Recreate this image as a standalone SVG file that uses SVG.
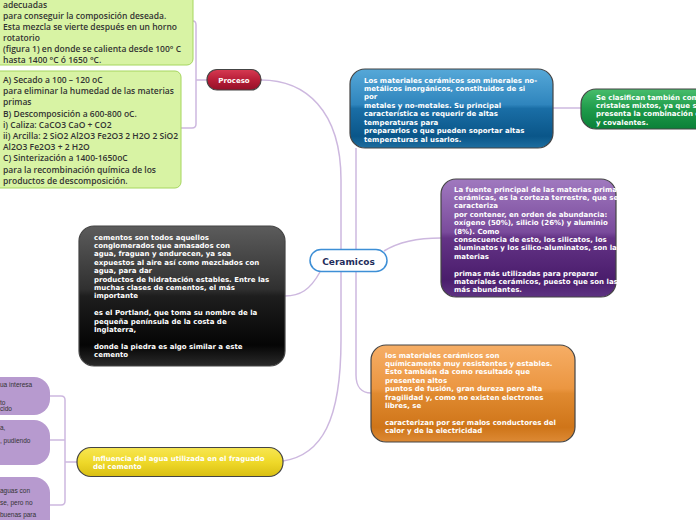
<svg xmlns="http://www.w3.org/2000/svg" width="696" height="520" viewBox="0 0 696 520">
<defs>
<linearGradient id="gBlue" x1="0" y1="0" x2="0" y2="1"><stop offset="0" stop-color="#56a8d8"/><stop offset="0.45" stop-color="#2f85bd"/><stop offset="0.5" stop-color="#1a6ea6"/><stop offset="0.85" stop-color="#0a5689"/><stop offset="1" stop-color="#1d6ea0"/></linearGradient>
<linearGradient id="gPurple" x1="0" y1="0" x2="0" y2="1"><stop offset="0" stop-color="#a079bf"/><stop offset="0.45" stop-color="#7a4b9c"/><stop offset="0.5" stop-color="#643386"/><stop offset="0.85" stop-color="#4a1d6c"/><stop offset="1" stop-color="#5e3382"/></linearGradient>
<linearGradient id="gBlack" x1="0" y1="0" x2="0" y2="1"><stop offset="0" stop-color="#5c5c5c"/><stop offset="0.45" stop-color="#303030"/><stop offset="0.5" stop-color="#1e1e1e"/><stop offset="0.85" stop-color="#050505"/><stop offset="1" stop-color="#2a2a2a"/></linearGradient>
<linearGradient id="gOrange" x1="0" y1="0" x2="0" y2="1"><stop offset="0" stop-color="#f6ae66"/><stop offset="0.45" stop-color="#eb9641"/><stop offset="0.5" stop-color="#e08a30"/><stop offset="0.85" stop-color="#cf7519"/><stop offset="1" stop-color="#dd8a35"/></linearGradient>
<linearGradient id="gYellow" x1="0" y1="0" x2="0" y2="1"><stop offset="0" stop-color="#f7e652"/><stop offset="0.5" stop-color="#efd92a"/><stop offset="1" stop-color="#d9bf12"/></linearGradient>
<linearGradient id="gGreen" x1="0" y1="0" x2="0" y2="1"><stop offset="0" stop-color="#48bd6c"/><stop offset="0.5" stop-color="#1e9b4a"/><stop offset="1" stop-color="#0b8038"/></linearGradient>
<linearGradient id="gRed" x1="0" y1="0" x2="0" y2="1"><stop offset="0" stop-color="#d63a52"/><stop offset="0.5" stop-color="#b81e38"/><stop offset="1" stop-color="#951028"/></linearGradient>
</defs>
<style>
.conn{fill:none;stroke:#cdb8df;stroke-width:1.5}
.glossy{stroke:#444;stroke-width:1.2}
.wt{font-family:"DejaVu Sans",Verdana,sans-serif;font-weight:bold;font-size:7px;fill:#fff}
.gt{font-family:"Open Sans","Liberation Sans",sans-serif;font-weight:600;font-size:8.5px;fill:#333}
.lt{font-family:"Liberation Sans",Arial,sans-serif;font-size:6.5px;fill:#333}
.lime{fill:#d8f3a4;stroke:#a6d65e;stroke-width:1}
.lav{fill:#b79acf}
</style>
<rect width="696" height="520" fill="#fff"/>
<g id="connectors">
<path class="conn" d="M261,80 C305,80 341,110 341,180 L341,250"/>
<path class="conn" d="M356,250 L356,148"/>
<path class="conn" d="M553,108 L581,108"/>
<path class="conn" d="M384,251 C400,241 418,238 441,238"/>
<path class="conn" d="M320,272 C310,290 300,296 285,296"/>
<path class="conn" d="M356,272 L356,375 C356,387 362,393 371,393"/>
<path class="conn" d="M283,461 C322,455 341,420 341,340 L341,272"/>
<path class="conn" d="M193,21 Q196,21 196,25 L196,124 Q196,128 192,128 L181,128"/>
<path class="conn" d="M196,80 L207,80"/>
<path class="conn" d="M50,396 L61,396 Q65,396 65,400 L65,501 Q65,505 61,505 L50,505"/>
<path class="conn" d="M50,440 L65,440"/>
<path class="conn" d="M65,462 L77,462"/>
</g>
<g id="lime1">
<rect class="lime" x="-10" y="-20" width="203" height="85" rx="6"/>
<text class="gt"><tspan x="3" y="7.5">adecuadas</tspan><tspan x="3" y="18.5">para conseguir la composición deseada.</tspan><tspan x="3" y="29.5">Esta mezcla se vierte después en un horno</tspan><tspan x="3" y="40.5">rotatorio</tspan><tspan x="3" y="51.5">(figura 1) en donde se calienta desde 100° C</tspan><tspan x="3" y="62.5">hasta 1400 °C ó 1650 °C.</tspan></text>
</g>
<g id="lime2">
<rect class="lime" x="-10" y="71" width="191" height="117" rx="6"/>
<text class="gt"><tspan x="3" y="83">A) Secado a 100 – 120 oC</tspan><tspan x="3" y="94.2">para eliminar la humedad de las materias</tspan><tspan x="3" y="105.4">primas</tspan><tspan x="3" y="116.6">B) Descomposición a 600-800 oC.</tspan><tspan x="3" y="127.8">i) Caliza: CaCO3 CaO + CO2</tspan><tspan x="3" y="139">ii) Arcilla: 2 SiO2 Al2O3 Fe2O3 2 H2O 2 SiO2</tspan><tspan x="3" y="150.2">Al2O3 Fe2O3 + 2 H2O</tspan><tspan x="3" y="161.4">C) Sinterización a 1400-1650oC</tspan><tspan x="3" y="172.6">para la recombinación química de los</tspan><tspan x="3" y="183.8">productos de descomposición.</tspan></text>
</g>
<g id="proceso">
<rect class="glossy" fill="url(#gRed)" x="207" y="69.5" width="54" height="20.5" rx="10"/>
<text class="wt" x="234" y="83" text-anchor="middle">Proceso</text>
</g>
<g id="ceramicos">
<rect x="310" y="249.5" width="77" height="22" rx="11" fill="#fff" stroke="#3d8fd6" stroke-width="1.5"/>
<text x="348.5" y="265.2" text-anchor="middle" style="font-family:'DejaVu Sans',Verdana,sans-serif;font-weight:bold;font-size:9px;fill:#1f2d5c">Ceramicos</text>
</g>
<g id="blue">
<rect class="glossy" fill="url(#gBlue)" x="350" y="69" width="203" height="79" rx="15"/>
<text class="wt"><tspan x="364" y="82.5">Los materiales cerámicos son minerales no-</tspan><tspan x="364" y="91">metálicos inorgánicos, constituidos de si</tspan><tspan x="364" y="99.4">por</tspan><tspan x="364" y="107.9">metales y no-metales. Su principal</tspan><tspan x="364" y="116.3">característica es requerir de altas</tspan><tspan x="364" y="124.8">temperaturas para</tspan><tspan x="364" y="133.2">prepararlos o que pueden soportar altas</tspan><tspan x="364" y="141.7">temperaturas al usarlos.</tspan></text>
</g>
<g id="green">
<rect class="glossy" fill="url(#gGreen)" x="581" y="89" width="140" height="40" rx="15"/>
<text class="wt"><tspan x="596" y="99.5">Se clasifican también como</tspan><tspan x="596" y="107.9">cristales mixtos, ya que se</tspan><tspan x="596" y="116.3">presenta la combinación de</tspan><tspan x="596" y="124.7">y covalentes.</tspan></text>
</g>
<g id="purple">
<rect class="glossy" fill="url(#gPurple)" x="441" y="179" width="175" height="118" rx="15"/>
<text class="wt"><tspan x="454" y="191.5">La fuente principal de las materias primas</tspan><tspan x="454" y="199.9">cerámicas, es la corteza terrestre, que se</tspan><tspan x="454" y="208.3">caracteriza</tspan><tspan x="454" y="216.7">por contener, en orden de abundancia:</tspan><tspan x="454" y="225.1">oxígeno (50%), silicio (26%) y aluminio</tspan><tspan x="454" y="233.5">(8%). Como</tspan><tspan x="454" y="241.9">consecuencia de esto, los silicatos, los</tspan><tspan x="454" y="250.3">aluminatos y los silico-aluminatos, son las</tspan><tspan x="454" y="258.7">materias</tspan><tspan x="454" y="275.5">primas más utilizadas para preparar</tspan><tspan x="454" y="283.9">materiales cerámicos, puesto que son las</tspan><tspan x="454" y="292.3">más abundantes.</tspan></text>
</g>
<g id="black">
<rect class="glossy" fill="url(#gBlack)" x="79" y="226" width="206" height="140" rx="15"/>
<text class="wt"><tspan x="94" y="239.5">cementos son todos aquellos</tspan><tspan x="94" y="247.9">conglomerados que amasados con</tspan><tspan x="94" y="256.3">agua, fraguan y endurecen, ya sea</tspan><tspan x="94" y="264.7">expuestos al aire así como mezclados con</tspan><tspan x="94" y="273.1">agua, para dar</tspan><tspan x="94" y="281.5">productos de hidratación estables. Entre las</tspan><tspan x="94" y="289.9">muchas clases de cementos, el más</tspan><tspan x="94" y="298.3">importante</tspan><tspan x="94" y="315.1">es el Portland, que toma su nombre de la</tspan><tspan x="94" y="323.5">pequeña península de la costa de</tspan><tspan x="94" y="331.9">Inglaterra,</tspan><tspan x="94" y="348.7">donde la piedra es algo similar a este</tspan><tspan x="94" y="357.1">cemento</tspan></text>
</g>
<g id="orange">
<rect class="glossy" fill="url(#gOrange)" x="371" y="345" width="204" height="97" rx="15"/>
<text class="wt"><tspan x="385" y="357.5">los materiales cerámicos son</tspan><tspan x="385" y="365.9">químicamente muy resistentes y estables.</tspan><tspan x="385" y="374.3">Esto también da como resultado que</tspan><tspan x="385" y="382.7">presenten altos</tspan><tspan x="385" y="391.1">puntos de fusión, gran dureza pero alta</tspan><tspan x="385" y="399.5">fragilidad y, como no existen electrones</tspan><tspan x="385" y="407.9">libres, se</tspan><tspan x="385" y="424.7">caracterizan por ser malos conductores del</tspan><tspan x="385" y="433.1">calor y de la electricidad</tspan></text>
</g>
<g id="yellow">
<rect class="glossy" fill="url(#gYellow)" x="77" y="447.5" width="206" height="29" rx="14"/>
<text class="wt"><tspan x="93" y="460.5">Influencia del agua utilizada en el fraguado</tspan><tspan x="93" y="468.9">del cemento</tspan></text>
</g>
<g id="lav1">
<rect class="lav" x="-20" y="377" width="70" height="38" rx="16"/>
<text class="lt"><tspan x="0" y="387">ua interesa</tspan><tspan x="0" y="405">to</tspan><tspan x="0" y="411">cido</tspan></text>
</g>
<g id="lav2">
<rect class="lav" x="-20" y="420" width="70" height="45" rx="16"/>
<text class="lt"><tspan x="0" y="430">a,</tspan><tspan x="0" y="443">, pudiendo</tspan></text>
</g>
<g id="lav3">
<rect class="lav" x="-20" y="477" width="70" height="60" rx="16"/>
<text class="lt"><tspan x="0" y="493">aguas con</tspan><tspan x="0" y="505">se, pero no</tspan><tspan x="0" y="517">buenas para</tspan></text>
</g>
</svg>
